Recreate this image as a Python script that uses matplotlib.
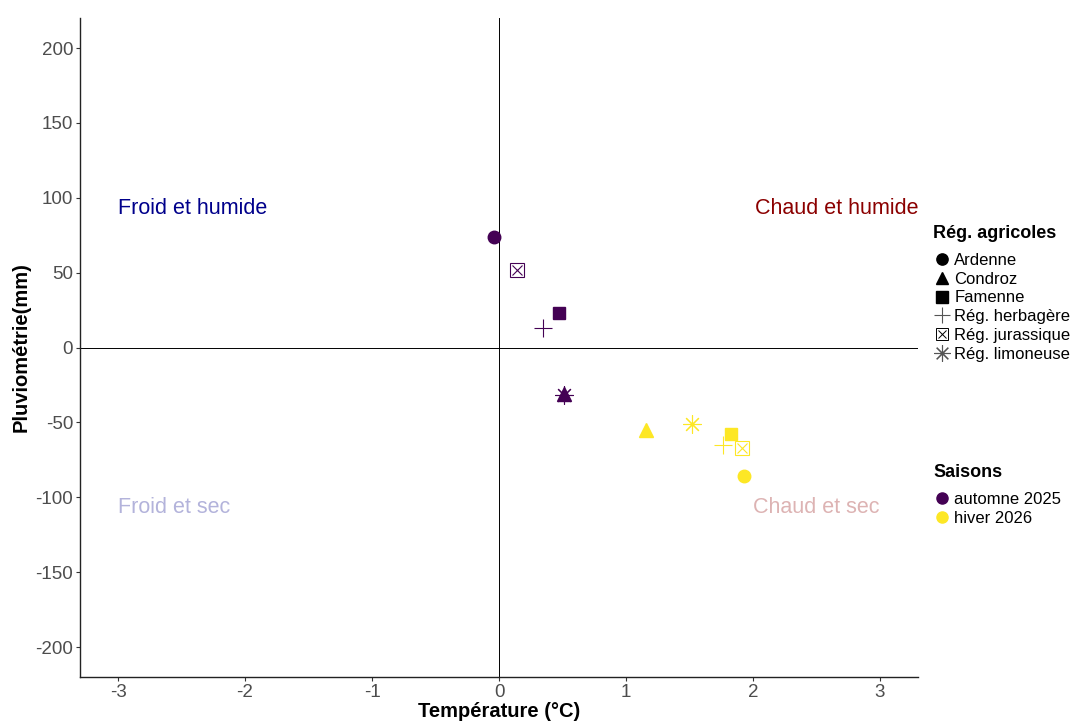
import matplotlib
matplotlib.use("Agg")
from matplotlib import pyplot as plt
from matplotlib.lines import Line2D
from matplotlib.legend_handler import HandlerTuple

plt.rcParams['font.family'] = ['Liberation Sans', 'DejaVu Sans']
plt.rcParams['axes.unicode_minus'] = False

regions = ["Ardenne", "Condroz", "Famenne", "Rég. herbagère", "Rég. jurassique", "Rég. limoneuse"]
seasons = ["automne 2025", "hiver 2026"]
season_colors = ["#440154", "#FDE725"]

# temperature anomaly (°C) and precipitation anomaly (mm), per season, per region
temp = [
    [-0.04, 0.51, 0.47, 0.35, 0.14, 0.51],
    [1.93, 1.16, 1.83, 1.76, 1.91, 1.52],
]
pluvio = [
    [74, -31, 23, 13, 52, -32],
    [-86, -55, -58, -65, -67, -51],
]

quadrants = ["Froid et humide", "Chaud et humide", "Froid et sec", "Chaud et sec"]
quad_colors = ["#00008B", "#8B0000", "#B3B3DB", "#DDB3B3"]

marker_style = {
    "Ardenne": dict(marker="o", ms=9),
    "Condroz": dict(marker="^", ms=10),
    "Famenne": dict(marker="s", ms=9),
    "Rég. herbagère": dict(marker="+", ms=13, mew=0.8),
    "Rég. limoneuse": dict(marker=(8, 2, 0), ms=13, mew=0.8),
}

fig = plt.figure(figsize=(10.75, 7.22), dpi=100)
ax = fig.add_axes([0.0744, 0.0623, 0.7796, 0.9127])

ax.axhline(0, color="black", lw=0.7, zorder=1)
ax.axvline(0, color="black", lw=0.7, zorder=1)

for s, col in enumerate(season_colors):
    for r, reg in enumerate(regions):
        x, y = temp[s][r], pluvio[s][r]
        if reg == "Rég. jurassique":
            ax.plot(x, y, ls="none", marker="s", ms=10, mfc="none", mec=col, mew=0.8, zorder=3)
            ax.plot(x, y, ls="none", marker="x", ms=7, mec=col, mew=0.8, zorder=3)
        else:
            st = marker_style[reg]
            ax.plot(x, y, ls="none", color=col, mec=col, zorder=3, **st)

txt = dict(fontsize=15.5, va="center")
ax.text(-3.0, 93, quadrants[0], color=quad_colors[0], ha="left", **txt)
ax.text(3.3, 93, quadrants[1], color=quad_colors[1], ha="right", **txt)
ax.text(-3.0, -107, quadrants[2], color=quad_colors[2], ha="left", **txt)
ax.text(2.5, -107, quadrants[3], color=quad_colors[3], ha="center", **txt)

ax.set_xlim(-3.3, 3.3)
ax.set_ylim(-220, 220)
ax.set_xticks([-3, -2, -1, 0, 1, 2, 3])
ax.set_yticks([-200, -150, -100, -50, 0, 50, 100, 150, 200])
ax.tick_params(labelsize=13.5, colors="#4D4D4D", length=3, width=0.8, pad=2)
ax.tick_params(axis="both", color="#333333")
for side in ["top", "right"]:
    ax.spines[side].set_visible(False)
for side in ["left", "bottom"]:
    ax.spines[side].set_linewidth(1.0)
    ax.spines[side].set_color("#222222")

ax.set_xlabel("Température (°C)", fontsize=14.5, fontweight="bold", labelpad=1)
ax.set_ylabel("Pluviométrie(mm)", fontsize=14.5, fontweight="bold", labelpad=3)

# legend: regions
reg_handles = []
for reg in regions:
    if reg == "Rég. jurassique":
        h = (Line2D([], [], ls="none", marker="s", ms=9, mfc="none", mec="black", mew=0.7),
             Line2D([], [], ls="none", marker="x", ms=6, mec="black", mew=0.7))
    else:
        st = dict(marker_style[reg])
        st["ms"] = st["ms"] * 0.9
        if "mew" in st:
            h = Line2D([], [], ls="none", color="#555555", **st)
        else:
            h = Line2D([], [], ls="none", color="black", **st)
    reg_handles.append(h)

leg1 = fig.legend(reg_handles, regions, title="Rég. agricoles", loc="upper left",
                  bbox_to_anchor=(0.862, 0.698), frameon=False, fontsize=12,
                  title_fontproperties={"weight": "bold", "size": 13},
                  handler_map={tuple: HandlerTuple(ndivide=1, pad=0)},
                  handlelength=1.0, handletextpad=0.25, labelspacing=0.23,
                  alignment="left", borderaxespad=0)
leg1._legend_box.sep = 8

season_handles = [Line2D([], [], ls="none", marker="o", ms=8, color=c) for c in season_colors]
leg2 = fig.legend(season_handles, seasons, title="Saisons", loc="upper left",
                  bbox_to_anchor=(0.862, 0.367), frameon=False, fontsize=12,
                  title_fontproperties={"weight": "bold", "size": 13},
                  handlelength=1.0, handletextpad=0.25, labelspacing=0.23,
                  alignment="left", borderaxespad=0)
leg2._legend_box.sep = 8

fig.savefig("out.png", dpi=100)
